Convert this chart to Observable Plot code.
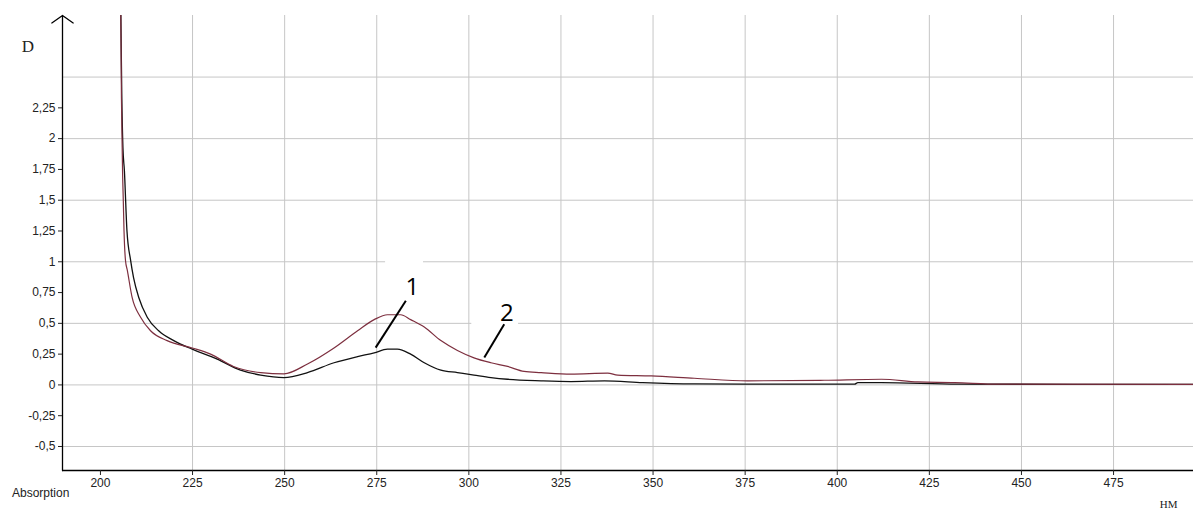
<!DOCTYPE html>
<html><head><meta charset="utf-8">
<script src="https://cdn.jsdelivr.net/npm/d3@7"></script>
<script src="https://cdn.jsdelivr.net/npm/@observablehq/plot@0.6"></script>
<style>html,body{margin:0;padding:0;background:#fff;}</style>
</head><body><div id="chart"></div>
<script>
// Curve 1 (black)
const wl1 = [205.5,205.8,206.1,206.5,207.2,208.2,209.0,210.4,212.7,215.8,219.9,224.9,231.7,238.0,243.5,249.8,256.2,263.4,269.8,274.3,277.9,280.6,284.2,287.9,292.4,296.9,301.4,306.0,310.5,319.6,327.7,336.8,347.2,361.2,374.8,404.7,405.6,412.0,432.8,497];
const D1  = [3.1,2.33,1.93,1.74,1.25,1.01,0.87,0.71,0.55,0.44,0.36,0.29,0.21,0.12,0.08,0.06,0.10,0.18,0.23,0.26,0.29,0.29,0.25,0.18,0.12,0.10,0.08,0.06,0.046,0.033,0.027,0.033,0.019,0.008,0.006,0.006,0.019,0.019,0.006,0.004];
// Curve 2 (dark red)
const wl2 = [205.5,205.7,205.9,206.0,206.2,206.4,206.8,207.3,208.6,210.9,213.6,218.1,224.9,229.9,236.1,243.5,249.8,256.2,263.4,269.8,274.3,277.9,281.5,284.2,287.9,292.4,296.9,301.4,306.0,310.5,315.0,319.6,327.7,337.7,340.4,349.5,361.2,375.7,396.5,412.0,421.9,431.9,443.7,497];
const D2  = [3.1,2.33,1.93,1.74,1.50,1.25,1.01,0.93,0.71,0.55,0.44,0.36,0.30,0.25,0.15,0.10,0.09,0.17,0.30,0.44,0.53,0.57,0.57,0.53,0.47,0.36,0.28,0.22,0.18,0.15,0.11,0.10,0.087,0.095,0.08,0.073,0.054,0.033,0.038,0.046,0.024,0.019,0.006,0.004];

const xTicks = [200,225,250,275,300,325,350,375,400,425,450,475];
const xGrid  = [225,250,275,300,325,350,375,400,425,450,475];
const yTicks = [-0.5,-0.25,0,0.25,0.5,0.75,1,1.25,1.5,1.75,2,2.25];
const yGrid  = [-0.5,0,0.5,1,1.5,2,2.5];
const xDomain = [189.7, 496.7];
const yDomain = [-0.695, 3.0];

// Annotation labels and leader lines (data coordinates)
const annText = ["1","2"];
const annWl   = [284.7, 310.3];
const annD    = [0.79, 0.585];
const leadWlFrom = [282.9, 309.6];
const leadDFrom  = [0.683, 0.493];
const leadWlTo   = [274.7, 304.2];
const leadDTo    = [0.303, 0.222];
// white patches behind annotation labels
const boxWl1 = [277.4, 300.8];
const boxWl2 = [287.7, 313.5];
const boxD1  = [0.70, 0.42];
const boxD2  = [1.09, 0.70];

const curve1 = wl1.map((w,i)=>({wl:w, D:D1[i]}));
const curve2 = wl2.map((w,i)=>({wl:w, D:D2[i]}));
const ann = annText.map((t,i)=>({t, wl:annWl[i], D:annD[i]}));
const leads = leadWlFrom.map((w,i)=>({x1:w, y1:leadDFrom[i], x2:leadWlTo[i], y2:leadDTo[i]}));
const boxes = boxWl1.map((w,i)=>({x1:w, x2:boxWl2[i], y1:boxD1[i], y2:boxD2[i]}));

const gridColor = "#c6c6c6";
const chart = Plot.plot({
  width: 1193, height: 510,
  marginLeft: 62, marginRight: 0, marginTop: 15, marginBottom: 40,
  x: {domain: xDomain},
  y: {domain: yDomain},
  style: {fontFamily: "'Liberation Sans', Arial, sans-serif", fontSize: "12px", color: "#222", background: "#fff", overflow: "visible"},
  marks: [
    Plot.gridX(xGrid, {stroke: gridColor, strokeOpacity: 1}),
    Plot.gridY(yGrid, {stroke: gridColor, strokeOpacity: 1}),
    Plot.rect(boxes, {x1: "x1", x2: "x2", y1: "y1", y2: "y2", fill: "white"}),
    Plot.line(curve1, {x: "wl", y: "D", stroke: "#111", strokeWidth: 1.3, clip: true, curve: "monotone-x"}),
    Plot.line(curve2, {x: "wl", y: "D", stroke: "#7d2f3f", strokeWidth: 1.2, clip: true, curve: "monotone-x"}),
    Plot.ruleY([yDomain[0]], {stroke: "#000", strokeWidth: 1.6}),
    Plot.arrow([{x1: xDomain[0], y1: yDomain[0], x2: xDomain[0], y2: yDomain[1]}],
      {x1: "x1", y1: "y1", x2: "x2", y2: "y2", stroke: "#000", strokeWidth: 1.3, headAngle: 110, headLength: 15}),
    Plot.axisX({ticks: xTicks, tickSize: 5, tickPadding: 3, label: null, stroke: "#222", fontSize: 12}),
    Plot.axisY({ticks: yTicks, tickSize: 4, tickPadding: 3, label: null, stroke: "#222", fontSize: 12,
      tickFormat: d => String(d).replace(".", ",")}),
    Plot.link(leads, {x1: "x1", y1: "y1", x2: "x2", y2: "y2", stroke: "#000", strokeWidth: 2}),
    Plot.text(ann, {x: "wl", y: "D", text: "t", fontSize: 24, fontFamily: "'Open Sans', sans-serif", fill: "#000"}),
    Plot.text(["D"], {text: d => d, frameAnchor: "top-left", dx: -34.5, dy: 36.7, textAnchor: "middle", lineAnchor: "bottom",
      fontFamily: "'Liberation Serif', 'DejaVu Serif', serif", fontSize: 17, fill: "#222"}),
    Plot.text(["Absorption"], {text: d => d, frameAnchor: "bottom-left", dx: -50.5, dy: 26, textAnchor: "start", lineAnchor: "bottom",
      fontSize: 12, fill: "#222"}),
    Plot.text(["HM"], {text: d => d, frameAnchor: "bottom-right", dx: -16, dy: 37, textAnchor: "end", lineAnchor: "bottom",
      fontFamily: "'Liberation Serif', serif", fontSize: 11, fill: "#222", letterSpacing: "1.5px"})
  ]
});
document.getElementById("chart").appendChild(chart);
</script>
</body></html>
